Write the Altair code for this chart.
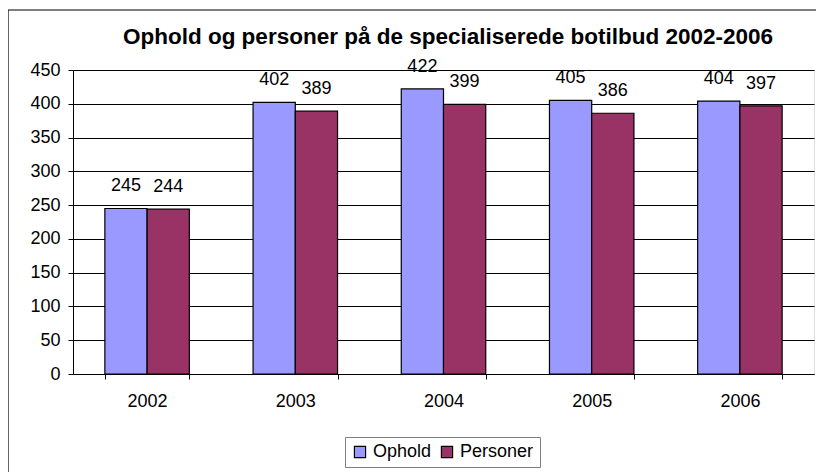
import altair as alt
import pandas as pd

years = ["2002", "2003", "2004", "2005", "2006"]
ophold = [245, 402, 422, 405, 404]
personer = [244, 389, 399, 386, 397]
series = ["Ophold", "Personer"]
colors = ["#9999FF", "#993366"]
title_text = "Ophold og personer på de specialiserede botilbud 2002-2006"
y_ticks = [0, 50, 100, 150, 200, 250, 300, 350, 400, 450]

rows = []
for i, y in enumerate(years):
    rows.append({"year": y, "serie": "Ophold", "value": ophold[i]})
    rows.append({"year": y, "serie": "Personer", "value": personer[i]})
df = pd.DataFrame(rows)

FONT = "Liberation Sans"
FS = 18

x_scale = alt.Scale(paddingInner=0.43, paddingOuter=0.215)
y_scale = alt.Scale(domain=[0, 450], nice=False)
x_axis = alt.Axis(labelAngle=0, labelFontSize=FS, labelColor="black",
                  labelPadding=13, tickBand="extent", tickSize=5,
                  tickColor="black", domainColor="black", grid=False,
                  labelFont=FONT)
y_axis = alt.Axis(values=y_ticks, labelFontSize=FS, labelOverlap=False,
                  labelColor="black", tickSize=5, tickColor="black",
                  domainColor="black", gridColor="black", gridOpacity=1,
                  labelPadding=8, labelFont=FONT)
xo = alt.XOffset("serie:N", scale=alt.Scale(domain=series, paddingInner=0, paddingOuter=0))

bars = alt.Chart(df).mark_bar(stroke="black", strokeWidth=1.2).encode(
    x=alt.X("year:N", title=None, scale=x_scale, axis=x_axis),
    xOffset=xo,
    y=alt.Y("value:Q", title=None, scale=y_scale, axis=y_axis),
    color=alt.Color("serie:N", title=None,
                    scale=alt.Scale(domain=series, range=colors),
                    legend=alt.Legend(orient="none", legendX=272, legendY=367,
                                      direction="horizontal", symbolType="square",
                                      symbolSize=125, symbolStrokeColor="black",
                                      symbolStrokeWidth=1.2, labelFontSize=FS,
                                      labelFont=FONT, labelColor="black",
                                      strokeColor="#808080", padding=6,
                                      columnPadding=6, labelOffset=4)),
)

labels = alt.Chart(df).mark_text(fontSize=FS, font=FONT, color="black",
                                 baseline="alphabetic", dy=-17).encode(
    x=alt.X("year:N", title=None, scale=x_scale, axis=x_axis),
    xOffset=xo,
    y=alt.Y("value:Q", title=None, scale=y_scale, axis=y_axis),
    text=alt.Text("value:Q"),
)

frame_data = pd.DataFrame({"t": [title_text]})
frame_left = alt.Chart(frame_data).mark_rule(color="black", strokeWidth=1.2).encode(
    x=alt.value(-65), y=alt.value(-60), y2=alt.value(420))
frame_top = alt.Chart(frame_data).mark_rule(color="black", strokeWidth=1.2).encode(
    x=alt.value(-65), x2=alt.value(760), y=alt.value(-60))
title = alt.Chart(frame_data).mark_text(
    fontSize=22.5, font=FONT, fontWeight="bold", color="black",
    align="center", baseline="middle").encode(
    x=alt.value(375), y=alt.value(-33), text="t:N")

chart = alt.layer(frame_left, frame_top, title, bars, labels).properties(
    width=741, height=304,
    autosize=alt.AutoSizeParams(type="none"),
    padding={"left": 65, "top": 62, "right": 2, "bottom": 98},
).configure_view(stroke="#808080", strokeWidth=1).configure(background="white")

chart.save("out.html", embed_options={"renderer": "svg", "actions": False})
